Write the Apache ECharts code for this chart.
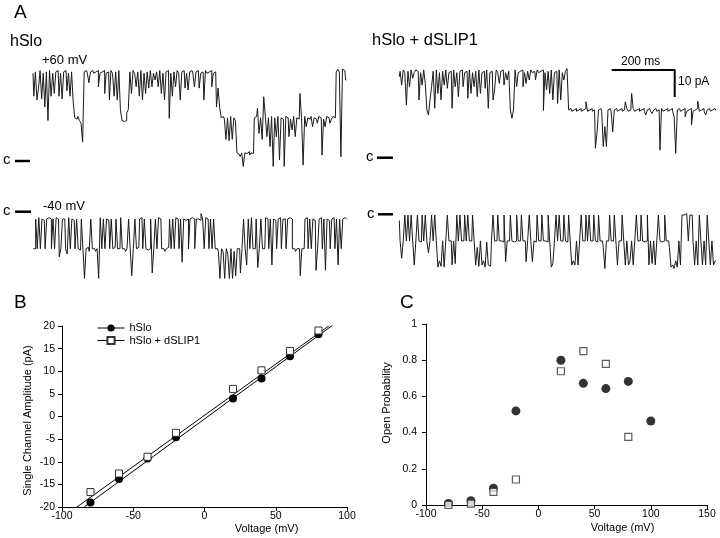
<!DOCTYPE html>
<html><head><meta charset="utf-8">
<script src="https://cdn.jsdelivr.net/npm/echarts@6/dist/echarts.min.js"></script>
<style>html,body{margin:0;padding:0;background:#fff}#chart{width:720px;height:538px}</style>
</head><body><div id="chart"></div>
<script>
// ---------- Panel B data (I-V) ----------
const bVoltage = [-80, -60, -40, -20, 20, 40, 60, 80];
const bHSlo = [-19, -13.8, -9.3, -4.6, 4, 8.4, 13.3, 18.2];
const bDSLIP = [-16.7, -12.6, -8.9, -3.6, 6.1, 10.2, 14.5, 19];
const bFitHSloX = [-84.4, 90];
const bFitHSloY = [-20, 20.2];
const bFitDSLIPX = [-89.5, 87.2];
const bFitDSLIPY = [-20, 20];
const seriesNames = ['hSlo', 'hSlo + dSLIP1'];

// ---------- Panel C data (open probability) ----------
const cVoltageHSlo = [-80, -60, -40, -20, 20, 40, 60, 80, 100];
const cHSlo = [0.008, 0.024, 0.093, 0.52, 0.80, 0.672, 0.643, 0.683, 0.464];
const cVoltageDSLIP = [-80, -60, -40, -20, 20, 40, 60, 80];
const cDSLIP = [0, 0.008, 0.073, 0.141, 0.739, 0.85, 0.78, 0.376];

// ---------- Panel A traces (pA, sampled every 5 ms) ----------
const SAMPLE_MS = 5;
const trace1 = [32.5,24,33,22.6,27,33.5,23,32.5,20,33,15,33.5,24,32.5,25,33,33.5,24,32.5,23,
33,33.5,26,32.5,24,33,22,16,15.5,16.5,15,14,7,33,33.5,32.5,29,33,33.5,32.5,
33,33.5,27.5,32.5,33,33.5,25,32.5,33,22.6,33.5,32.5,24,33,22.6,33.5,19,15,14.6,15,
17.7,19,33,25,33.5,32.5,27.5,33,24,33.5,22.6,32.5,25,33,27,33.5,27.5,32.5,30,33,
27.5,33.5,25,32.5,22.6,33,33.5,15.8,32.5,24,33,27.5,33.5,32.5,22.6,33,33.5,27,32.5,26.3,
33,33.5,32.5,27.5,33,33.5,27,32.5,33,22.6,33.5,32.5,33,33.5,27.5,32.5,33,20,27,20,
16,16.5,15.5,8,16,7.5,16.5,8,16,15,3,2.5,1.6,3,-2,3,2.8,3.5,2.2,3,
2.8,16,16.5,19.5,10.2,16,8,23.8,16.5,9,16,5.3,16.5,-2,16,9,16.5,0.4,16,15.5,
-2,16.5,16,9,15.5,11.5,16.5,9,16,15.5,25,16,-1.5,16.5,12.7,16,15.5,16.5,12.7,16,
15.5,14,16.5,16,2.2,15.5,12.7,16.5,16,14,15.5,16.5,16,33,34,33,1.6,34,33.5,30];
const trace2 = [30,32,26.9,32.5,31.5,19.5,32,26.3,32.5,29.4,31.5,32.5,32,21.4,31.5,26.9,32.5,27.5,17.7,15.8,
21.4,26.3,32,18.3,32.5,23.8,31.5,21.4,32,26.9,32.5,25.7,31.5,32,18.3,32.5,26.3,31.5,22.6,32,
32.5,26.3,31.5,32,22,32.5,23.8,31.5,26.3,32,22.6,32.5,23.8,31.5,32,25.7,32.5,18.3,31.5,32,
21.4,25.1,32.5,31.5,27.5,32,32.5,26.9,31.5,28.8,32,17.7,14.6,17.7,32.5,26.3,31.5,32,32.5,26.3,
31.5,27.5,32,28.8,32.5,31.5,32,28.8,32.5,31.5,32,32.5,17.5,31.5,25.1,32,23.8,32.5,21.4,31.5,
32,20.1,32.5,21.4,31.5,28.8,32,33,17.7,18.2,17.2,17.7,18.2,17.2,17.7,18.2,17.2,17.7,
18.2,20.7,17.2,17.7,18.2,17.2,17.7,3.5,9,17.7,18.2,17.2,4.1,11.5,4.1,17.7,18.2,17.2,9.6,17.7,
18.2,17.2,17.7,18.2,17.2,17.7,20.7,18.2,17.2,17.7,23.8,18.2,17.2,17.7,18.2,17.2,17.7,18.2,17.2,15.8,
17.7,18.2,17.2,16.4,17.7,18.2,17.2,17.7,2.8,18.2,17.2,17.7,18.2,17.2,17.7,18.2,17.2,15.2,1.6,17.7,
18.2,17.2,17.7,18.2,15.2,17.2,17.7,18.2,12.1,17.2,17.7,18.2,21,17.2,17.7,18.2,17.2,15.8,17.7,18.2,
17.2,17.7,18.2,17.5];
const trace3 = [-11,-11,0,-11,0.5,-11,0,-0.5,-11,0,0.5,0,-11,0,-11,0.5,0,-14,-11,0,
0,-11,-13,0.5,-11,0,-0.5,-11,0,-11,-11.5,0,-11,-22,-11,-10.5,-12,0,-11,-11,
-12,-11,-22,0.5,-11,0,-11,0,-0.5,-11,0,-11,-10.5,0,-11,-11,0.5,-11,-11,-12,
-11,0,-11,-21,-11,0,-11,-10.5,0,0.5,-11,0,-11,-11.5,-11,0,-20,-11,0,-11,
0.5,0,-11,-11,-12,-11,-10.5,0,-11,0,-11,0.5,0,-11,0,-16,0,-0.5,0,-11,
0,0.5,0,-11,0,0,-0.5,2,0,-11,0.5,0,-11,0,-11,0,-11,-11,-12,-22,
-11,-12,-22,-11,-13,-22,-11,-22,-12,-21,-11,-11,-20,-11,0,-11,-17,0,-11,0.5,
-11,-11,0,-18,-11,0,-11,-11,0.5,0,-11,0,-17,0,-0.5,-11,0,0.5,-11,0,
0,-11,0,0.5,0,-11,-11,-12,-11,-11,-21,-11,-11,0,0.5,-11,0,-11,0,-0.5,
-19,-11,0,0.5,-11,0,-19,0,-0.5,-11,0,0.5,-11,0,-17,0,-11,0,0.5,0];
const trace4 = [-2,-9.6,-16,-9.6,0,-9.6,0,-9.6,0,-9.6,-18.5,-9.6,0,-9.6,-10,0,-9.6,0,-9.6,-14,
-9.6,0,-9.6,0,-9.6,-19.3,-17,-19,-9.6,-19.3,-9.6,0,-9.6,-9.6,-18.5,-9.6,-18,0,-9.6,0,
-9.6,-9.6,0,-9.6,0,-9.6,-9.6,0,-9.6,-18.5,-12,-19,-9.6,-18.5,-17,-19.3,-10,-18.5,-19,-9.6,
0,-9.6,-9.6,0,-9.6,-9.6,-10,0,-17.3,-9.6,-9.6,0,-9.6,-10,-9.6,0,-9.6,-9.6,0,-9.6,
-9.6,-17.3,-9.6,0,-9.6,-17.3,-9.6,-10,0,-9.6,-9.6,0,-9.6,-9.6,-10,0,-9.6,-19.3,-18,-9.6,
0,-9.6,0,-9.6,-9.6,0,-9.6,-10,0,-9.6,-18.5,-17,-18.5,-9.6,-18.5,-9.6,0,-9.6,-9.6,0,
-9.6,0,-9.6,-9.6,0,-9.6,-10,0,-9.6,-9.6,-12,-19.8,-9.6,-9.6,0,-9.6,-9.6,0,-9.6,-18.5,
-9.6,-9.6,0,-9.6,-18.5,-9.6,-18.5,-17,-9.6,-18.5,-9.6,0,-9.6,-9.6,0,-9.6,-10,-9.6,0,-18.5,
-9.6,-18,-9.6,-18.5,-9.6,0,-9.6,-10,-9.6,0,-9.6,-9.6,-12,-19.3,-18.5,-19.8,-17,-19.3,-9.6,-18.5,
0,0,0.5,0,-9.6,0,0,-9.6,-18.5,-9.6,-18.5,0,-9.6,-18.5,-9.6,-18.5,0,-9.6,-18.5,-9.6,
-18.5,-17];

// scale bar values
const SCALE_MS = 200;
const SCALE_PA = 10;

// ---------- layout ----------
const FONT = '"Liberation Sans", Arial, Helvetica, sans-serif';
const PX_PER_MS = 0.315;
const PX_PER_PA = 2.7;
const traceLayout = [
  {data: trace1, left: 33, zeroY: 161, top: 58, bottom: 174},
  {data: trace2, left: 399.3, zeroY: 157.7, top: 58, bottom: 174},
  {data: trace3, left: 33.3, zeroY: 219, top: 196, bottom: 290},
  {data: trace4, left: 399.3, zeroY: 215, top: 196, bottom: 290}
];
const TRACE_W = 320;

const zip = (a, b) => a.map((v, i) => [v, b[i]]);

const grids = [], xAxes = [], yAxes = [], series = [];
traceLayout.forEach((t, k) => {
  grids.push({left: t.left, top: t.top, width: TRACE_W, height: t.bottom - t.top, outerBoundsMode: 'none'});
  xAxes.push({gridIndex: k, type: 'value', min: 0, max: TRACE_W / PX_PER_MS, show: false});
  yAxes.push({gridIndex: k, type: 'value', min: (t.zeroY - t.bottom) / PX_PER_PA, max: (t.zeroY - t.top) / PX_PER_PA, show: false});
  series.push({
    type: 'line', xAxisIndex: k, yAxisIndex: k, symbol: 'none', silent: true, step: 'middle',
    data: t.data.map((v, i) => [i * SAMPLE_MS, v]),
    lineStyle: {color: '#1a1a1a', width: 1}
  });
});

// scale bar drawn in trace-2 coordinates
const sbAnchorMs = (611.7 - 399.3) / PX_PER_MS;
const sbAnchorPa = (157.7 - 70) / PX_PER_PA;
series.push({
  type: 'line', xAxisIndex: 1, yAxisIndex: 1, symbol: 'none', silent: true,
  data: [[sbAnchorMs, sbAnchorPa], [sbAnchorMs + SCALE_MS, sbAnchorPa], [sbAnchorMs + SCALE_MS, sbAnchorPa - SCALE_PA]],
  lineStyle: {color: '#000', width: 2}
});

const axisCommon = {
  type: 'value',
  axisLine: {show: true, onZero: false, lineStyle: {color: '#000', width: 1}},
  axisTick: {show: true, length: 4, lineStyle: {color: '#000', width: 1}},
  splitLine: {show: false},
  axisLabel: {color: '#000', fontSize: 10.5, fontFamily: FONT},
  nameLocation: 'middle',
  nameTextStyle: {color: '#000', fontSize: 11, fontFamily: FONT}
};

// Panel B
grids.push({left: 62, top: 326, width: 285, height: 181, outerBoundsMode: 'none'});
xAxes.push(Object.assign({}, axisCommon, {
  gridIndex: 4, min: -100, max: 100, interval: 50,
  axisLabel: Object.assign({}, axisCommon.axisLabel, {margin: 4}),
  name: 'Voltage (mV)', nameGap: 16,
  nameTextStyle: Object.assign({}, axisCommon.nameTextStyle, {padding: [0, 0, 0, 124]})
}));
yAxes.push(Object.assign({}, axisCommon, {
  gridIndex: 4, min: -20, max: 20, interval: 5,
  axisLabel: Object.assign({}, axisCommon.axisLabel, {margin: 7}),
  name: 'Single Channel Amplitude (pA)', nameGap: 29, nameRotate: 90,
  nameTextStyle: Object.assign({}, axisCommon.nameTextStyle, {padding: [0, 8, 0, 0]})
}));
series.push({type: 'line', xAxisIndex: 4, yAxisIndex: 4, symbol: 'none', silent: true,
  data: zip(bFitHSloX, bFitHSloY), lineStyle: {color: '#000', width: 1}, z: 2});
series.push({type: 'line', xAxisIndex: 4, yAxisIndex: 4, symbol: 'none', silent: true,
  data: zip(bFitDSLIPX, bFitDSLIPY), lineStyle: {color: '#000', width: 1}, z: 2});
series.push({type: 'line', name: seriesNames[0], xAxisIndex: 4, yAxisIndex: 4,
  data: zip(bVoltage, bHSlo), symbol: 'circle', symbolSize: 8,
  itemStyle: {color: '#000'}, lineStyle: {opacity: 0}, z: 3});
series.push({type: 'line', name: seriesNames[1], xAxisIndex: 4, yAxisIndex: 4,
  data: zip(bVoltage, bDSLIP), symbol: 'rect', symbolSize: 7,
  itemStyle: {color: '#fff', borderColor: '#333', borderWidth: 1}, lineStyle: {opacity: 0}, z: 4});

// Panel C
grids.push({left: 426, top: 324, width: 281, height: 181, outerBoundsMode: 'none'});
xAxes.push(Object.assign({}, axisCommon, {
  gridIndex: 5, min: -100, max: 150, interval: 50,
  axisLabel: Object.assign({}, axisCommon.axisLabel, {margin: 4}),
  name: 'Voltage (mV)', nameGap: 17,
  nameTextStyle: Object.assign({}, axisCommon.nameTextStyle, {padding: [0, 0, 0, 112]})
}));
yAxes.push(Object.assign({}, axisCommon, {
  gridIndex: 5, min: 0, max: 1, interval: 0.2,
  axisLabel: Object.assign({}, axisCommon.axisLabel, {margin: 9}),
  name: 'Open Probability', nameGap: 33.5, nameRotate: 90,
  nameTextStyle: Object.assign({}, axisCommon.nameTextStyle, {padding: [0, 0, 0, 23]})
}));
series.push({type: 'scatter', xAxisIndex: 5, yAxisIndex: 5, data: zip(cVoltageHSlo, cHSlo),
  symbol: 'circle', symbolSize: 9, itemStyle: {color: '#000'}, z: 3});
series.push({type: 'scatter', xAxisIndex: 5, yAxisIndex: 5, data: zip(cVoltageDSLIP, cDSLIP),
  symbol: 'rect', symbolSize: 7, itemStyle: {color: '#fff', borderColor: '#333', borderWidth: 1.2}, z: 4});

function txt(text, x, y, size, align) {
  return {type: 'text', x: x, y: y, silent: true,
    style: {text: text, fontSize: size, fontFamily: FONT, fill: '#000', align: align || 'left', verticalAlign: 'middle'}};
}
function bar(x1, x2, y) {
  return {type: 'line', silent: true, shape: {x1: x1, y1: y, x2: x2, y2: y}, style: {stroke: '#000', lineWidth: 2.5}};
}

const graphics = [
  txt('A', 14, 13, 19),
  txt('hSlo', 10, 42, 16),
  txt('+60 mV', 42, 60, 13),
  txt('hSlo + dSLIP1', 372, 40, 16.5),
  txt('200 ms', 621, 62, 12),
  txt('10 pA', 678, 82, 12),
  txt('-40 mV', 43, 206, 13),
  txt('c', 3, 160, 15), bar(15, 30, 161),
  txt('c', 366, 157, 15), bar(377, 393, 157.7),
  txt('c', 3, 211, 15), bar(15, 31, 211.7),
  txt('c', 367, 213.5, 15), bar(378, 393, 214.3),
  txt('B', 14, 303, 19),
  txt('C', 400, 303, 19)
];

const chart = echarts.init(document.getElementById('chart'), null, {renderer: 'canvas'});
chart.setOption({
  animation: false,
  backgroundColor: '#fff',
  textStyle: {fontFamily: FONT},
  grid: grids,
  xAxis: xAxes,
  yAxis: yAxes,
  legend: {
    data: seriesNames, orient: 'vertical', left: 97, top: 322.5, padding: 0,
    itemWidth: 27, itemHeight: 9, itemGap: 1.5, selectedMode: false,
    textStyle: {color: '#000', fontSize: 11, fontFamily: FONT, lineHeight: 9},
    lineStyle: {color: '#000', width: 1, opacity: 1}
  },
  graphic: graphics,
  series: series
});
</script></body></html>
